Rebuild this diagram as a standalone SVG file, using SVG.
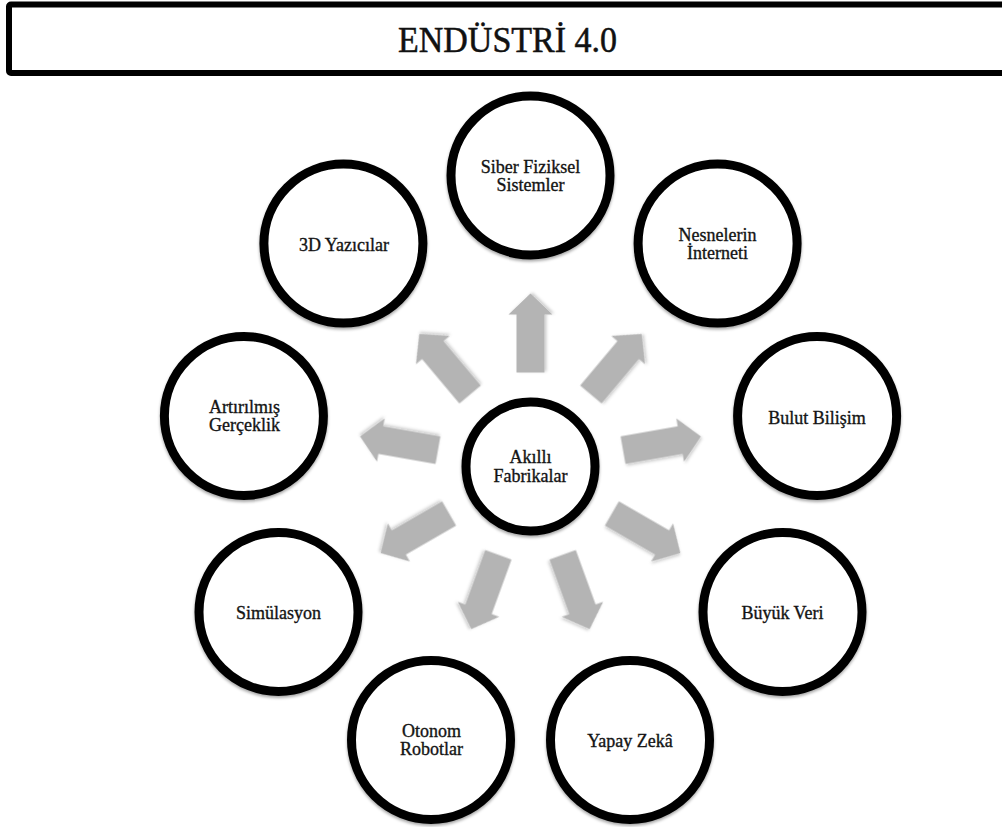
<svg xmlns="http://www.w3.org/2000/svg" xmlns:xlink="http://www.w3.org/1999/xlink" width="1002" height="827" viewBox="0 0 1002 827">
  <style>
    .node circle { fill: #ffffff; stroke: #000000; stroke-width: 9; filter: url(#shadow); }
    .node text { font-family: "Liberation Serif", "Times New Roman", serif; font-size: 18px; fill: #141414; stroke: #141414; stroke-width: 0.35; text-anchor: middle; }
    .arrow { fill: #b4b4b4; filter: url(#ashadow); }
    .title { font-family: "Liberation Serif", "Times New Roman", serif; font-size: 35px; fill: #111111; stroke: #111111; stroke-width: 0.5; text-anchor: middle; }
  </style>
  <defs>
    <filter id="shadow" x="-20%" y="-20%" width="140%" height="140%">
      <feDropShadow dx="0" dy="2" stdDeviation="1.8" flood-color="#000000" flood-opacity="0.35"/>
    </filter>
    <filter id="ashadow" x="-30%" y="-30%" width="160%" height="160%">
      <feGaussianBlur in="SourceGraphic" stdDeviation="0.6" result="b"/>
      <feDropShadow in="b" dx="1" dy="2" stdDeviation="1.5" flood-color="#000000" flood-opacity="0.2"/>
    </filter>
    <polygon id="arr" points="624.5,452.5 682.5,452.5 682.5,444.5 703.5,466.5 682.5,488.5 682.5,480.5 624.5,480.5"/>
  </defs>
  <rect width="1002" height="827" fill="#ffffff"/>

  <g id="title">
    <rect x="9" y="4.5" width="1010" height="68.5" rx="2" fill="#ffffff" stroke="#000000" stroke-width="6"/>
    <text class="title" x="507.5" y="52" textLength="219" lengthAdjust="spacingAndGlyphs">ENDÜSTRİ 4.0</text>
  </g>

  <g id="connectors">
    <use href="#arr" class="arrow" transform="rotate(-90 530.5 466.5)"/>
    <use href="#arr" class="arrow" transform="rotate(-50 530.5 466.5)"/>
    <use href="#arr" class="arrow" transform="rotate(-10 530.5 466.5)"/>
    <use href="#arr" class="arrow" transform="rotate(30 530.5 466.5)"/>
    <use href="#arr" class="arrow" transform="rotate(70 530.5 466.5)"/>
    <use href="#arr" class="arrow" transform="rotate(110 530.5 466.5)"/>
    <use href="#arr" class="arrow" transform="rotate(150 530.5 466.5)"/>
    <use href="#arr" class="arrow" transform="rotate(190 530.5 466.5)"/>
    <use href="#arr" class="arrow" transform="rotate(230 530.5 466.5)"/>
  </g>

  <g id="akilli-fabrikalar" class="node">
    <circle cx="530.5" cy="466.5" r="64.5"/>
    <text x="530.5" y="462.7">Akıllı</text>
    <text x="530.5" y="481.5">Fabrikalar</text>
  </g>

  <g id="siber-fiziksel-sistemler" class="node">
    <circle cx="530.5" cy="175.5" r="79.5"/>
    <text x="530.5" y="173">Siber Fiziksel</text>
    <text x="530.5" y="191">Sistemler</text>
  </g>

  <g id="nesnelerin-interneti" class="node">
    <circle cx="717.6" cy="243.6" r="79.5"/>
    <text x="717.6" y="240.6">Nesnelerin</text>
    <text x="717.6" y="258.6">İnterneti</text>
  </g>

  <g id="bulut-bilisim" class="node">
    <circle cx="817.1" cy="416" r="79.5"/>
    <text x="817.1" y="423.8">Bulut Bilişim</text>
  </g>

  <g id="buyuk-veri" class="node">
    <circle cx="782.5" cy="612" r="79.5"/>
    <text x="782.5" y="619.3">Büyük Veri</text>
  </g>

  <g id="yapay-zeka" class="node">
    <circle cx="630" cy="739.9" r="79.5"/>
    <text x="630" y="746.5">Yapay Zekâ</text>
  </g>

  <g id="otonom-robotlar" class="node">
    <circle cx="431" cy="739.9" r="79.5"/>
    <text x="431.5" y="736.5">Otonom</text>
    <text x="431.5" y="754.5">Robotlar</text>
  </g>

  <g id="simulasyon" class="node">
    <circle cx="278.5" cy="612" r="79.5"/>
    <text x="278.5" y="619.3">Simülasyon</text>
  </g>

  <g id="artirilmis-gerceklik" class="node">
    <circle cx="243.9" cy="416" r="79.5"/>
    <text x="244.5" y="413">Artırılmış</text>
    <text x="244.5" y="431">Gerçeklik</text>
  </g>

  <g id="3d-yazicilar" class="node">
    <circle cx="343.4" cy="243.6" r="79.5"/>
    <text x="344" y="250.7">3D Yazıcılar</text>
  </g>
</svg>
